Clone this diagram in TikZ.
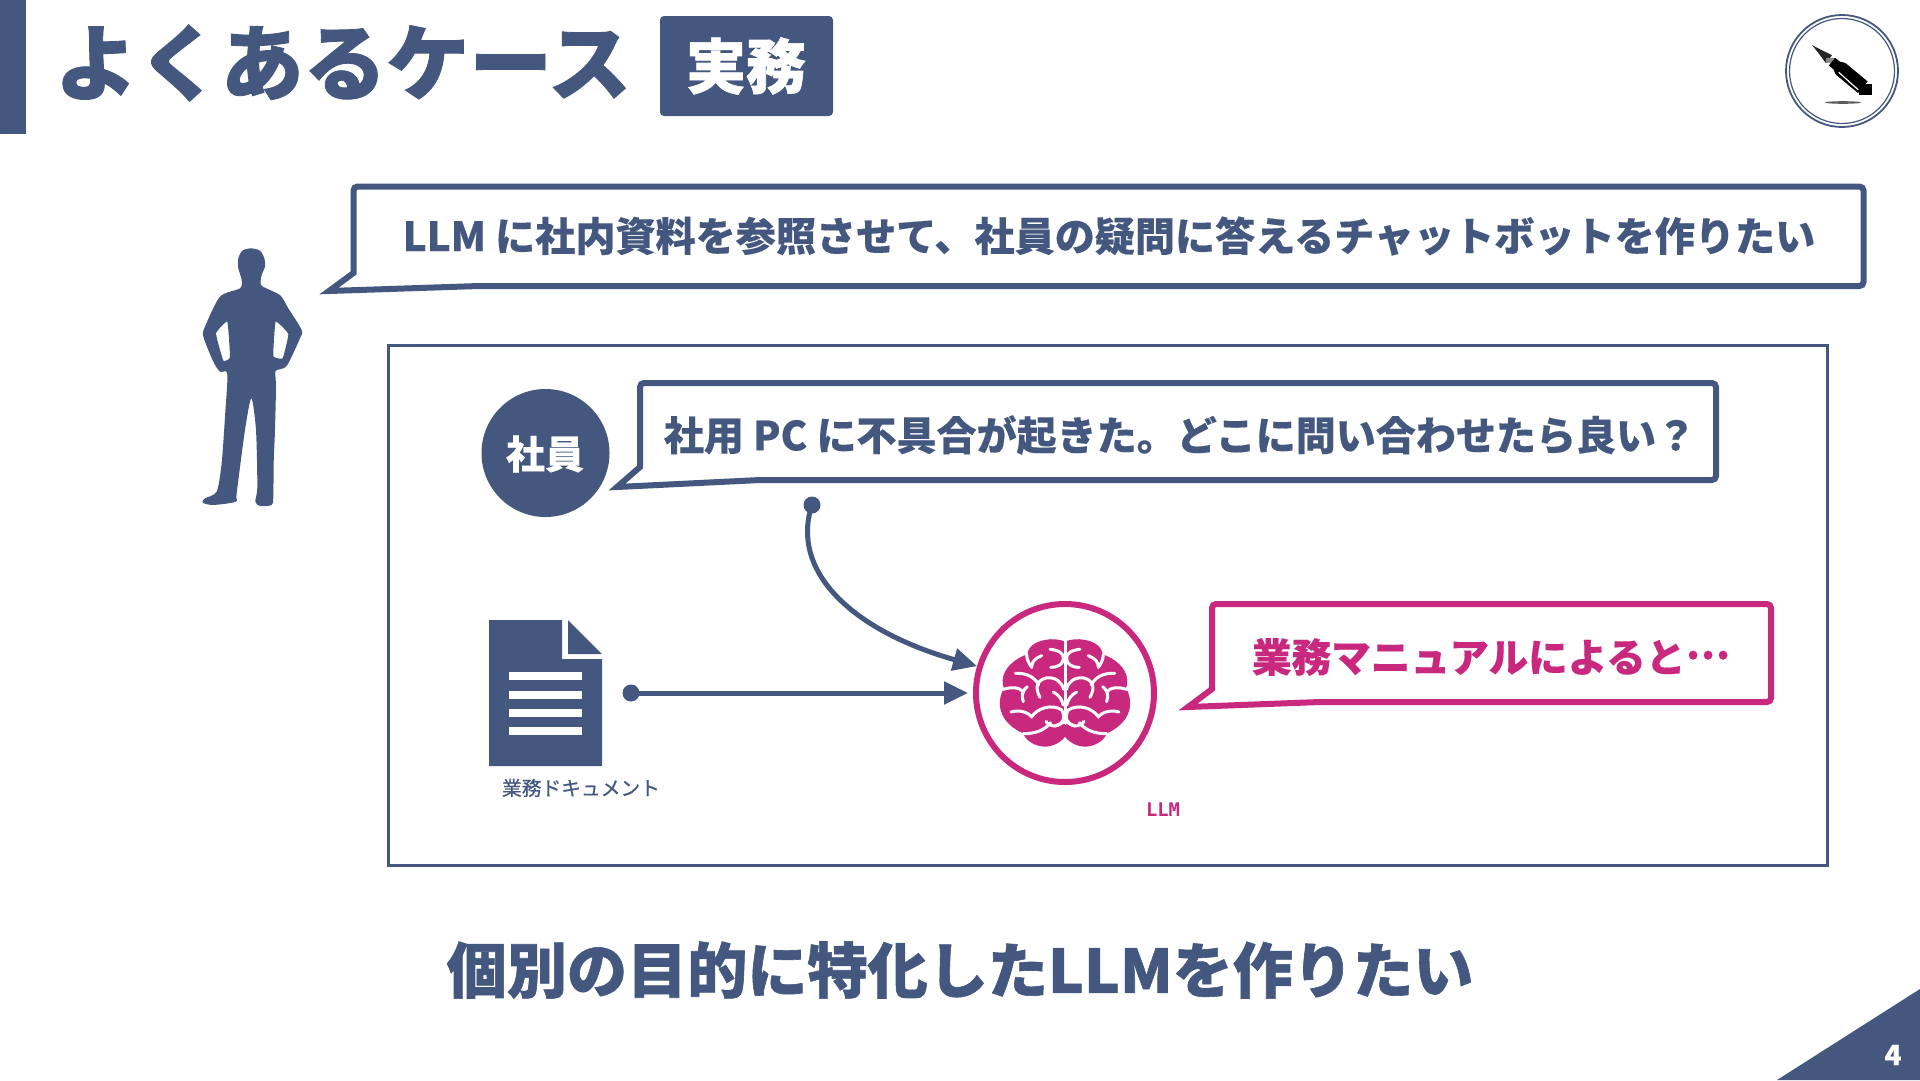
\documentclass[tikz,border=0pt]{standalone}
\usepackage{graphicx}
\usepackage{fontspec}
\setmainfont{Noto Sans CJK JP}[BoldFeatures={FakeBold=0.3}]
\newfontfamily\heavy{Noto Sans CJK JP}[BoldFeatures={FakeBold=1}]
\newfontfamily\medf{Noto Sans CJK JP}[FakeBold=0.6]
\newfontfamily\monof{DejaVu Sans Mono}
\usetikzlibrary{arrows.meta,calc}
\definecolor{navy}{HTML}{44587F}
\definecolor{mag}{HTML}{C8287E}
\newcommand{\fitw}[2]{\resizebox{#1pt}{!}{#2}}
\newcommand{\speech}[8]{%
  \draw[#8,line width=6pt,fill=white,rounded corners=4pt,line join=miter]
   (#1,#2) -- (#3,#2) -- (#3,#4) -- (#7,#4) [sharp corners] -- (#5,#6) -- (#1,#4-13) [rounded corners=4pt] -- cycle;}
\tikzset{
  txt/.style={inner sep=0pt,outer sep=0pt,anchor=center,font=\bfseries},
  dotn/.style={circle,fill=navy,inner sep=0pt,minimum size=17pt,outer sep=0pt},
  conn/.style={navy,line width=5pt,-{Triangle[length=24pt,width=22pt]}},
  foldl/.style={white,line width=3pt,line cap=round}
}
\newcommand{\brainhalf}{%
  \fill[mag] (315,155) .. controls (300,148) and (275,145) .. (255,150)
   .. controls (225,155) and (205,170) .. (202,193)
   .. controls (165,205) and (130,235) .. (128,270)
   .. controls (127,280) and (130,290) .. (132,296)
   .. controls (118,315) and (118,345) .. (122,360)
   .. controls (130,395) and (165,420) .. (190,430)
   .. controls (195,450) and (225,470) .. (255,470)
   .. controls (280,470) and (305,455) .. (315,440) -- cycle;
  \draw[foldl] (270,178) .. controls (295,180) and (312,190) .. (310,205) .. controls (310,222) and (295,232) .. (272,232);
  \draw[foldl] (245,197) .. controls (225,205) and (215,215) .. (215,232);
  \draw[foldl] (200,193) .. controls (200,210) and (208,222) .. (215,232);
  \draw[foldl] (166,250) .. controls (200,248) and (225,262) .. (236,285);
  \draw[foldl] (240,322) .. controls (225,295) and (228,272) .. (258,264) .. controls (285,260) and (305,275) .. (311,298);
  \draw[foldl] (130,298) .. controls (155,290) and (180,292) .. (190,306);
  \draw[foldl] (202,290) .. controls (188,300) and (183,318) .. (190,335);
  \draw[foldl] (280,306) .. controls (298,315) and (306,330) .. (310,345);
  \draw[foldl] (153,366) .. controls (180,358) and (205,368) .. (215,380) .. controls (232,355) and (275,340) .. (305,360) .. controls (318,380) and (310,405) .. (285,408) .. controls (272,408) and (262,402) .. (258,394);
  \draw[foldl] (190,431) .. controls (225,432) and (255,420) .. (272,398);
  \draw[foldl] (315,150) -- (315,400);
  \draw[foldl] (315,395) -- (285,408);
}
\begin{document}
\begin{tikzpicture}[x=1pt,y=-1pt]
\useasboundingbox (0,0) rectangle (1920,1080);
\fill[white] (0,0) rectangle (1920,1080);
% header
\fill[navy] (0,0) rectangle (26,134);
\node[txt,text=navy] (title) at (343,63) {\fitw{576}{\heavy\bfseries よくあるケース}};
\fill[navy,rounded corners=4pt] (660,16) rectangle (833,116);
\node[txt,text=white] (tag) at (746,66) {\fitw{120}{\heavy\bfseries 実務}};
% logo
\draw[navy,line width=1.8pt] (1842,71) circle (56);
\draw[navy,line width=1.2pt] (1842,71) circle (52.5);
\fill[black!80,opacity=.8] (1843,102.5) ellipse (18 and 1.3);
\begin{scope}[shift={(1812,45)},x={(0.77pt,-0.64pt)},y={(0.64pt,0.77pt)}]
 \fill[black!85] (0,0) .. controls (8,-1.5) and (16,-3.5) .. (22,-5) -- (22,5) .. controls (16,3.5) and (8,1.5) .. (0,0) -- cycle;
 \fill[black!45] (22,-5) rectangle (26,5);
 \fill[black] (26,-5) -- (32,-5) -- (37,-7.5) -- (66,-7.5) -- (66,7.5) -- (37,7.5) -- (32,5) -- (26,5) -- cycle;
 \fill[white] (38,-4.5) -- (64,-5.5) -- (64,-4.3) -- (38,-3.3) -- cycle;
 \fill[black!50] (66,-6.5) rectangle (68,6.5);
 \fill[black] (68,-8) rectangle (71,8);
\end{scope}
% person
\begin{scope}[shift={(180,230)},x=0.3333pt,y=-0.3333pt]
 \fill[navy,even odd rule]
  plot[smooth cycle,tension=0.45] coordinates {(213,55) (240,62) (253,85) (255,110) (245,135) (243,165) (270,180) (302,197) (325,235) (365,300) (360,325) (322,405) (300,418) (286,424) (288,470) (285,600) (281,700) (280,800) (275,825) (240,828) (226,815) (232,770) (228,600) (214,505) (195,600) (170,790) (168,815) (100,825) (68,818) (75,805) (110,785) (125,700) (135,560) (142,432) (120,425) (100,395) (70,320) (75,290) (120,200) (180,175) (185,150) (175,115) (175,85) (187,62)}
  plot[smooth cycle,tension=0.2] coordinates {(287,275) (325,312) (308,385) (280,378)}
  plot[smooth cycle,tension=0.2] coordinates {(142,275) (108,310) (130,392) (150,382)};
\end{scope}
% bubble 1
\speech{353.5}{186.5}{1863.5}{286}{329}{291}{479}{navy}
\node[txt,text=navy] (q1) at (1109,236) {\fitw{1412}{LLM に社内資料を参照させて、社員の疑問に答えるチャットボットを作りたい}};
% frame
\draw[navy,line width=3pt] (388.5,345.5) rectangle (1827.5,865.5);
% employee
\node[circle,fill=navy,minimum size=128pt,inner sep=0pt,outer sep=0pt] (emp) at (545.5,453) {};
\node[txt,text=white] (emplabel) at (545,454) {\fitw{78}{社員}};
% bubble 2
\speech{640}{383}{1716}{480}{617}{487}{760}{navy}
\node[txt,text=navy] (q2) at (1180,435) {\fitw{1032}{社用 PC に不具合が起きた。どこに問い合わせたら良い？}};
% document
\fill[navy] (489,620) -- (562,620) -- (562,659) -- (602,659) -- (602,766) -- (489,766) -- cycle;
\fill[navy] (568,620) -- (602,654) -- (568,654) -- cycle;
\foreach \yy in {672,691,709,727} \fill[white] (509,\yy) rectangle (582,\yy+8);
\node[txt,font=\medf,text=navy] (doclabel) at (581,788) {\fitw{158}{業務ドキュメント}};
% llm
\node[circle,draw=mag,line width=6pt,fill=white,minimum size=178pt,inner sep=0pt,outer sep=3pt] (llm) at (1065,693) {};
\begin{scope}[shift={(960,590)},x=0.3333pt,y=-0.3333pt]
 \begin{scope}[shift={(315,0)},xscale=-1,shift={(-315,0)}]\brainhalf\end{scope}
 \brainhalf
\end{scope}
\node[txt,text=mag,font=\monof\bfseries] (llmlabel) at (1163,810) {\fitw{34}{LLM}};
% connectors
\node[dotn] (d1) at (812,505) {};
\node[dotn] (d2) at (631,693) {};
\coordinate (e2) at (968,693);
\draw[conn] (d1.center) .. controls (790,570) and (850,630) .. (llm.163.5);
\draw[conn] (d2.center) -- (e2);
% bubble 3
\speech{1212}{604}{1771}{702}{1188}{707}{1320}{mag}
\node[txt,text=mag] (a1) at (1491,657) {\fitw{478}{業務マニュアルによると\raisebox{0.33em}{…}}};
% bottom
\node[txt,text=navy] (bottom) at (960,970) {\fitw{1026}{\heavy\bfseries 個別の目的に特化したLLMを作りたい}};
% corner
\fill[navy] (1777,1080) -- (1920,989) -- (1920,1080) -- cycle;
\node[txt,text=white,font=\bfseries\fontsize{28}{28}\selectfont] (page) at (1893,1055) {4};
\end{tikzpicture}
\end{document}
